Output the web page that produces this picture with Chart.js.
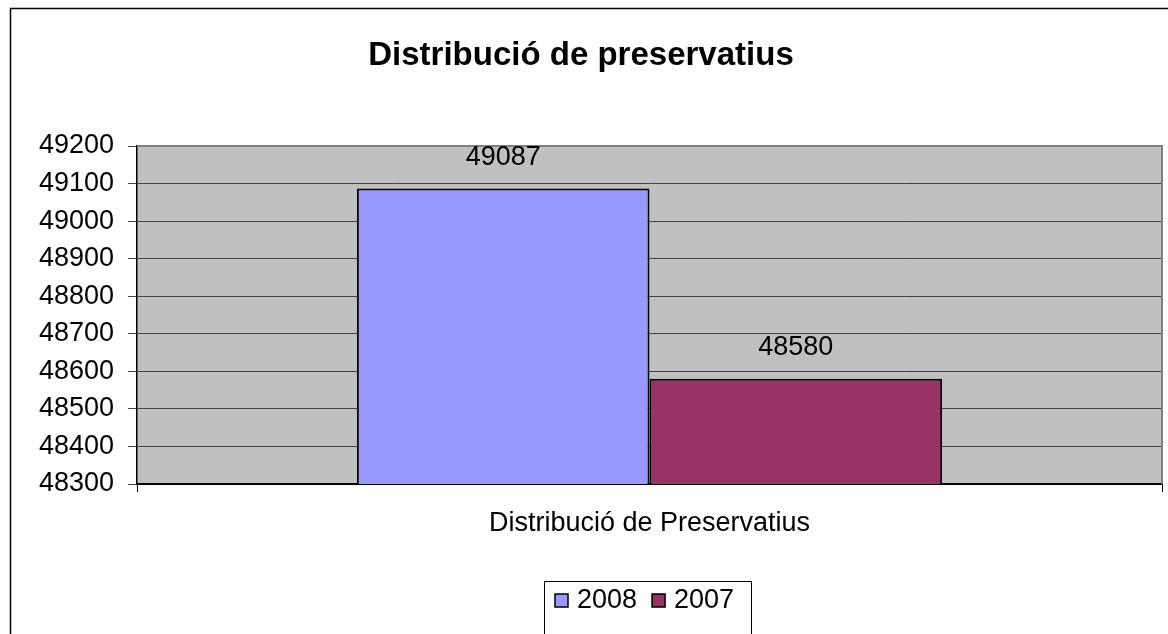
<!DOCTYPE html>
<html>
<head>
<meta charset="utf-8">
<title>Distribució de preservatius</title>
<script src="https://cdn.jsdelivr.net/npm/chart.js@4/dist/chart.umd.min.js"></script>
<style>
  html, body { margin: 0; padding: 0; background: #fff; }
  #chart { display: block; }
</style>
</head>
<body>
<canvas id="chart" width="1168" height="634"></canvas>
<script>
// Chart data
const categories = ['Distribució de Preservatius'];
const seriesNames = ['2008', '2007'];
const values2008 = [49087];
const values2007 = [48580];
const seriesColors = ['#9999FF', '#993366'];
const yMin = 48300;
const yMax = 49200;
const yStep = 100;

const FONT = "'Liberation Sans', Arial, sans-serif";
const TEXT_SIZE = 27;

// Gray plot area with a frame on top and right
const plotBackground = {
    id: 'plotBackground',
    beforeDraw(chart) {
        const { ctx, chartArea: a } = chart;
        ctx.save();
        ctx.fillStyle = '#C0C0C0';
        ctx.fillRect(a.left, a.top, a.right - a.left, a.bottom - a.top);
        ctx.restore();
    },
    afterDatasetsDraw(chart) {
        const { ctx, chartArea: a } = chart;
        ctx.save();
        ctx.strokeStyle = '#808080';
        ctx.lineWidth = 2;
        ctx.beginPath();
        ctx.moveTo(a.left, a.top);
        ctx.lineTo(a.right, a.top);
        ctx.lineTo(a.right, a.bottom);
        ctx.stroke();
        ctx.restore();
    }
};

// Value labels above each bar
const valueLabels = {
    id: 'valueLabels',
    afterDatasetsDraw(chart) {
        const { ctx } = chart;
        ctx.save();
        ctx.font = TEXT_SIZE + 'px ' + FONT;
        ctx.fillStyle = '#000';
        ctx.textAlign = 'center';
        ctx.textBaseline = 'middle';
        chart.data.datasets.forEach((ds, i) => {
            chart.getDatasetMeta(i).data.forEach((bar, j) => {
                ctx.fillText(String(ds.data[j]), bar.x, bar.y - 31);
            });
        });
        ctx.restore();
    }
};

// Outer frame and boxed legend at the bottom
const frameAndLegend = {
    id: 'frameAndLegend',
    afterDraw(chart) {
        const { ctx } = chart;
        ctx.save();
        ctx.strokeStyle = '#000';
        ctx.lineWidth = 1.5;
        ctx.beginPath();
        ctx.moveTo(10.5, chart.height);
        ctx.lineTo(10.5, 8.5);
        ctx.lineTo(chart.width, 8.5);
        ctx.stroke();

        // legend
        ctx.lineWidth = 1;
        ctx.strokeRect(544.5, 581.5, 207, 70);
        ctx.font = TEXT_SIZE + 'px ' + FONT;
        ctx.textBaseline = 'middle';
        ctx.textAlign = 'left';
        let x = 555;
        chart.data.datasets.forEach(ds => {
            ctx.fillStyle = ds.backgroundColor;
            ctx.fillRect(x, 594, 13, 13);
            ctx.strokeStyle = '#000';
            ctx.lineWidth = 1.5;
            ctx.strokeRect(x, 594, 13, 13);
            ctx.fillStyle = '#000';
            ctx.fillText(ds.label, x + 22, 601);
            x += 22 + ctx.measureText(ds.label).width + 15;
        });
        ctx.restore();
    }
};

new Chart(document.getElementById('chart'), {
    type: 'bar',
    data: {
        labels: categories,
        datasets: [
            {
                label: seriesNames[0],
                data: values2008,
                backgroundColor: seriesColors[0],
                borderColor: '#000',
                borderWidth: 2,
                borderSkipped: false
            },
            {
                label: seriesNames[1],
                data: values2007,
                backgroundColor: seriesColors[1],
                borderColor: '#000',
                borderWidth: 2,
                borderSkipped: false
            }
        ]
    },
    options: {
        responsive: false,
        animation: false,
        categoryPercentage: 0.571,
        barPercentage: 1,
        layout: { padding: { left: 0, right: 6, top: 0, bottom: 0 } },
        plugins: {
            legend: { display: false },
            tooltip: { enabled: false },
            title: {
                display: true,
                text: 'Distribució de preservatius',
                color: '#000',
                font: { family: FONT, size: 33, weight: 'bold' },
                padding: { top: 36.2, bottom: 70.2 }
            }
        },
        scales: {
            x: {
                grid: {
                    offset: true,
                    drawOnChartArea: false,
                    drawTicks: true,
                    tickLength: 8,
                    color: '#000'
                },
                border: { color: '#000', width: 2 },
                ticks: {
                    color: '#000',
                    font: { family: FONT, size: TEXT_SIZE },
                    padding: 15,
                    maxRotation: 0
                },
                afterFit(scale) { scale.height = 150; }
            },
            y: {
                min: yMin,
                max: yMax,
                grid: {
                    color: '#444',
                    lineWidth: 1,
                    tickLength: 9,
                    tickColor: '#444'
                },
                border: { color: '#000', width: 1.5 },
                ticks: {
                    stepSize: yStep,
                    color: '#000',
                    font: { family: FONT, size: TEXT_SIZE },
                    padding: 14,
                    callback: v => String(v)
                },
                afterFit(scale) { scale.width = 137; }
            }
        }
    },
    plugins: [plotBackground, valueLabels, frameAndLegend]
});
</script>
</body>
</html>
